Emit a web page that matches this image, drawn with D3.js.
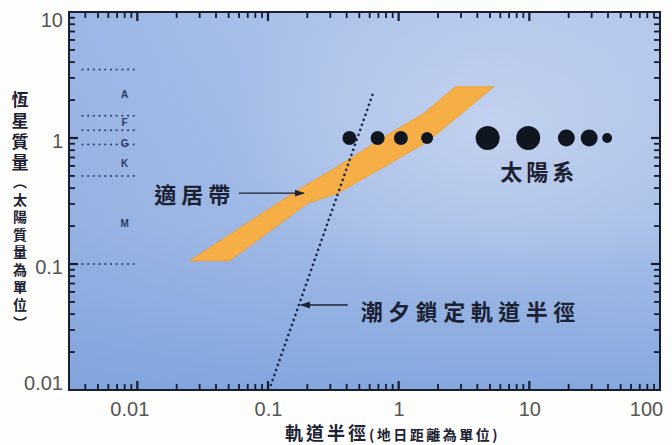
<!DOCTYPE html>
<html>
<head>
<meta charset="utf-8">
<script src="https://cdn.jsdelivr.net/npm/d3@7"></script>
<style>
  body { margin: 0; background: #fdfdfb; }
  #chart { position: relative; width: 672px; height: 445px; }
  #chart svg { position: absolute; left: 0; top: 0; display: block; }
  .cjk { font-family: "Noto Sans CJK TC", "Noto Sans CJK SC", sans-serif; font-weight: 700; fill: #1c2233; }
  .ticklab { font-family: "Liberation Sans", Arial, sans-serif; font-size: 20px; fill: #555; }
</style>
</head>
<body>
<div id="chart"></div>
<script>
// axis ranges and labels
var xDomain = [0.003, 100];
var yDomain = [0.01, 10];
var xMajor = [0.01, 0.1, 1, 10, 100];
var xTickLabels = ["0.01", "0.1", "1", "10", "100"];
var yMajor = [0.01, 0.1, 1, 10];
var yTickLabels = ["0.01", "0.1", "1", "10"];

// solar system (AU, solar masses, relative dot size)
var planetNames = ["水星", "金星", "地球", "火星", "木星", "土星", "天王星", "海王星", "冥王星"];
var planetAU = [0.42, 0.69, 1.04, 1.65, 4.8, 9.8, 19.2, 28.7, 39.4];
var planetMass = [1, 1, 1, 1, 1, 1, 1, 1, 1];
var planetSize = [0.34, 0.34, 0.34, 0.25, 1, 1, 0.5, 0.5, 0.17];

// habitable zone outline (AU, solar masses)
var hzUpper = [[0.0251, 0.106], [0.173, 0.392], [0.34, 0.592], [0.773, 1.02], [1.56, 1.57], [2.72, 2.55]];
var hzLower = [[5.34, 2.55], [1.66, 0.935], [0.773, 0.592], [0.34, 0.364], [0.201, 0.303], [0.0507, 0.106]];

// tidal locking radius
var tidalLine = [[0.102, 0.01], [0.63, 2.2]];

// spectral class boundaries and letters
var classBounds = [3.5, 1.5, 1.15, 0.89, 0.5, 0.1];
var classBoundX = [0.0038, 0.0102];
var classNames = ["A", "F", "G", "K", "M"];
var classMass = [2.2, 1.32, 0.91, 0.63, 0.21];
var classX = 0.008;

var margin = {top: 12, right: 12, bottom: 55, left: 69},
    W = 672, H = 445,
    width = W - margin.left - margin.right,
    height = H - margin.top - margin.bottom;

var x = d3.scaleLog().domain(xDomain).range([0, width]);
var y = d3.scaleLog().domain(yDomain).range([height, 0]);
var rScale = d3.scaleSqrt().domain([0, 1]).range([0, 12]);

var svg = d3.select("#chart").append("svg")
    .attr("width", W).attr("height", H);
var defs = svg.append("defs");

// background: blue with a lighter upper-right
var g1 = defs.append("linearGradient").attr("id", "bgv")
    .attr("x1", 0).attr("y1", 0).attr("x2", 0).attr("y2", 1);
g1.append("stop").attr("offset", "0%").attr("stop-color", "#b2c6ec");
g1.append("stop").attr("offset", "55%").attr("stop-color", "#a8bfe8");
g1.append("stop").attr("offset", "100%").attr("stop-color", "#86a8de");
var g2 = defs.append("linearGradient").attr("id", "bgh")
    .attr("x1", 0).attr("y1", 0).attr("x2", 1).attr("y2", 0);
g2.append("stop").attr("offset", "0%").attr("stop-color", "#7a9fdb").attr("stop-opacity", 0.4);
g2.append("stop").attr("offset", "45%").attr("stop-color", "#7a9fdb").attr("stop-opacity", 0.1);
g2.append("stop").attr("offset", "100%").attr("stop-color", "#7a9fdb").attr("stop-opacity", 0);
var g3 = defs.append("radialGradient").attr("id", "bgr")
    .attr("cx", 0.72).attr("cy", 0.3).attr("r", 0.45);
g3.append("stop").attr("offset", "0%").attr("stop-color", "#d2dcf1").attr("stop-opacity", 0.6);
g3.append("stop").attr("offset", "100%").attr("stop-color", "#d2dcf1").attr("stop-opacity", 0);

defs.append("clipPath").attr("id", "plotclip").append("rect")
    .attr("width", width).attr("height", height);

defs.append("marker").attr("id", "arrow")
    .attr("viewBox", "0 0 10 10").attr("refX", 9).attr("refY", 5)
    .attr("markerWidth", 7).attr("markerHeight", 7).attr("orient", "auto-start-reverse")
    .append("path").attr("d", "M0,1.5 L10,5 L0,8.5 Z").attr("fill", "#1c2233");

var plot = svg.append("g")
    .attr("transform", "translate(" + margin.left + "," + margin.top + ")");

["bgv", "bgh", "bgr"].forEach(function(id){
  plot.append("rect").attr("width", width).attr("height", height)
      .attr("fill", "url(#" + id + ")");
});

var inner = plot.append("g").attr("clip-path", "url(#plotclip)");

// habitable zone band
var bandLine = d3.line().x(function(d){ return x(d[0]); }).y(function(d){ return y(d[1]); })
    .curve(d3.curveLinearClosed);
inner.append("path")
    .attr("d", bandLine(hzUpper.concat(hzLower)))
    .attr("fill", "#f6ae47")
    .attr("stroke", "#eea03a")
    .attr("stroke-width", 1);

// tidal locking line
inner.append("path")
    .attr("d", d3.line().x(function(d){ return x(d[0]); }).y(function(d){ return y(d[1]); })(tidalLine))
    .attr("fill", "none")
    .attr("stroke", "#1d2850")
    .attr("stroke-width", 2.6)
    .attr("stroke-linecap", "round")
    .attr("stroke-dasharray", "0.1,5.2");

// spectral class dotted lines
inner.selectAll(".cls").data(classBounds).enter().append("line")
    .attr("x1", x(classBoundX[0])).attr("x2", x(classBoundX[1]))
    .attr("y1", function(d){ return y(d); }).attr("y2", function(d){ return y(d); })
    .attr("stroke", "#2c3d70")
    .attr("stroke-width", 2)
    .attr("stroke-linecap", "round")
    .attr("stroke-dasharray", "0.1,5.6");

inner.selectAll(".clsname").data(classNames).enter().append("text")
    .attr("x", x(classX))
    .attr("y", function(d, i){ return y(classMass[i]); })
    .attr("dy", "0.35em")
    .attr("text-anchor", "middle")
    .style("font-family", "Liberation Sans, Arial, sans-serif")
    .style("font-weight", "bold")
    .style("font-size", "10px")
    .style("fill", "#2c3a66")
    .text(function(d){ return d; });

// planets
inner.selectAll(".planet").data(planetNames).enter().append("circle")
    .attr("cx", function(d, i){ return x(planetAU[i]); })
    .attr("cy", function(d, i){ return y(planetMass[i]); })
    .attr("r", function(d, i){ return rScale(planetSize[i]); })
    .attr("fill", "#0f1620");

// annotations
inner.append("text").attr("class", "cjk")
    .attr("x", x(0.0135)).attr("y", y(0.353)).attr("dy", "0.36em")
    .style("font-size", "22px").style("letter-spacing", "5px")
    .text("適居帶");
inner.append("line")
    .attr("x1", x(0.060)).attr("x2", x(0.188))
    .attr("y1", y(0.365)).attr("y2", y(0.365))
    .attr("stroke", "#1c2233").attr("stroke-width", 1.4)
    .attr("marker-end", "url(#arrow)");

inner.append("text").attr("class", "cjk")
    .attr("x", x(0.513)).attr("y", y(0.0416)).attr("dy", "0.36em")
    .style("font-size", "22px").style("letter-spacing", "5.5px")
    .text("潮夕鎖定軌道半徑");
inner.append("line")
    .attr("x1", x(0.408)).attr("x2", x(0.179))
    .attr("y1", y(0.0473)).attr("y2", y(0.0473))
    .attr("stroke", "#1c2233").attr("stroke-width", 1.4)
    .attr("marker-end", "url(#arrow)");

inner.append("text").attr("class", "cjk")
    .attr("x", x(6.0)).attr("y", y(0.537)).attr("dy", "0.36em")
    .style("font-size", "22px").style("letter-spacing", "4px")
    .text("太陽系");

// tick labels
var xLab = plot.append("g").attr("transform", "translate(0," + height + ")")
    .call(d3.axisBottom(x).tickValues(xMajor).tickSize(0).tickPadding(12)
      .tickFormat(function(d, i){ return xTickLabels[i]; }));
xLab.select(".domain").remove();
xLab.selectAll("text").attr("class", "ticklab").attr("fill", null)
    .attr("dx", function(d, i){ return i === 0 ? -8 : (i === xMajor.length - 1 ? -14 : 0); });
xLab.attr("font-size", null).attr("font-family", null);

var yLab = plot.append("g")
    .call(d3.axisLeft(y).tickValues(yMajor).tickSize(0).tickPadding(6)
      .tickFormat(function(d, i){ return yTickLabels[i]; }));
yLab.select(".domain").remove();
yLab.selectAll("text").attr("class", "ticklab").attr("fill", null)
    .attr("y", function(d){ var p = y(d) + 3; return Math.max(8, Math.min(height - 7, p)) - y(d); });
yLab.attr("font-size", null).attr("font-family", null);

// axis titles
var xTitle = svg.append("text").attr("class", "cjk")
    .attr("x", 285).attr("y", 440);
xTitle.append("tspan").style("font-size", "18px").style("letter-spacing", "3px").text("軌道半徑");
xTitle.append("tspan").style("font-size", "14px").style("letter-spacing", "2.5px").text("(地日距離為單位)");

// vertical y title, one glyph per row
var yTitleChars = "恆星質量".split("").map(function(c){ return {c: c, s: 17, step: 21}; })
    .concat([{c: "︵", s: 14, step: 18}])
    .concat("太陽質量為單位".split("").map(function(c){ return {c: c, s: 14, step: 17.5}; }))
    .concat([{c: "︶", s: 14, step: 18}]);
var cursor = 88;
yTitleChars.forEach(function(d){ d.cy = cursor + d.step / 2; cursor += d.step; });
svg.append("g").selectAll("text").data(yTitleChars).enter().append("text")
    .attr("class", "cjk")
    .attr("x", 20).attr("y", function(d){ return d.cy; })
    .attr("text-anchor", "middle")
    .attr("dominant-baseline", "central")
    .style("font-size", function(d){ return d.s + "px"; })
    .text(function(d){ return d.c; });

// frame and inward ticks on a separate overlay svg
var over = d3.select("#chart").append("svg")
    .attr("width", W).attr("height", H);
var og = over.append("g")
    .attr("transform", "translate(" + margin.left + "," + margin.top + ")");

function isMajor(d){ return Math.abs(Math.log10(d) - Math.round(Math.log10(d))) < 1e-6; }
function tlen(d){ return isMajor(d) ? 9 : 6; }
function tw(d){ return isMajor(d) ? 2.2 : 1.8; }
var xTickVals = x.ticks().filter(function(d){ return d > xDomain[0] * 1.01 && d < xDomain[1] * 0.99; });
var yTickVals = y.ticks().filter(function(d){ return d > yDomain[0] * 1.01 && d < yDomain[1] * 0.99; });

function drawTicks(vals, horiz, base, dir){
  og.append("g").selectAll("line").data(vals).enter().append("line")
      .attr("x1", function(d){ return horiz ? x(d) : base; })
      .attr("x2", function(d){ return horiz ? x(d) : base + dir * tlen(d); })
      .attr("y1", function(d){ return horiz ? base : y(d); })
      .attr("y2", function(d){ return horiz ? base + dir * tlen(d) : y(d); })
      .attr("stroke", "#141a30")
      .attr("stroke-width", tw);
}
drawTicks(xTickVals, true, height, -1);
drawTicks(xTickVals, true, 0, 1);
drawTicks(yTickVals, false, 0, 1);
drawTicks(yTickVals, false, width, -1);

og.append("rect").attr("width", width).attr("height", height)
    .attr("fill", "none").attr("stroke", "#1a1f30").attr("stroke-width", 2);
</script>
</body>
</html>
